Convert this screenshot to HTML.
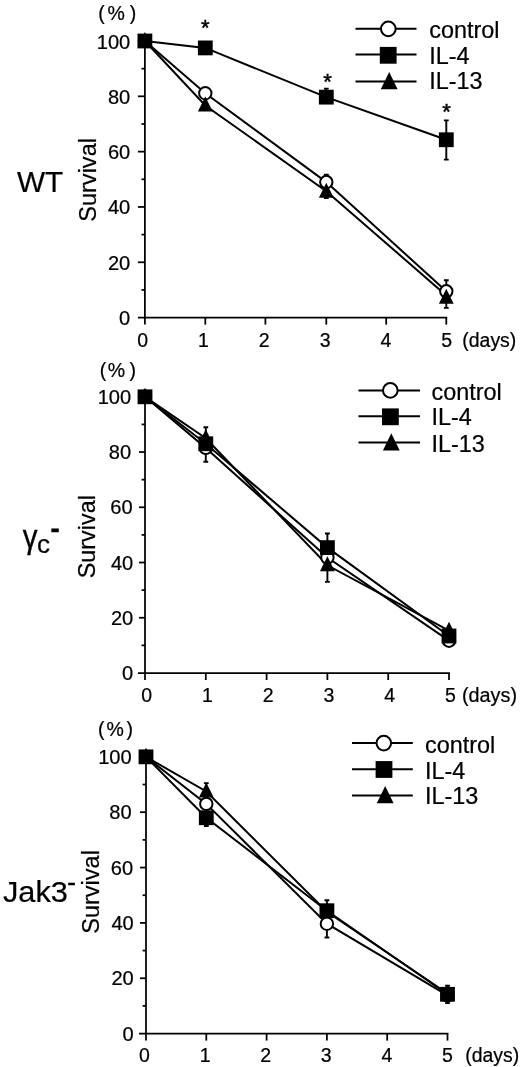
<!DOCTYPE html>
<html><head><meta charset="utf-8"><title>Survival</title>
<style>html,body{margin:0;padding:0;background:#fff}svg{display:block;will-change:transform}text{font-family:"Liberation Sans", sans-serif;fill:#000;stroke:#000;stroke-width:.22px}</style>
</head><body>
<svg width="520" height="1067" viewBox="0 0 520 1067">
<rect width="520" height="1067" fill="#fff"/>
<path d="M144.9 35V324.6" stroke="#000" stroke-width="1.75" fill="none"/>
<path d="M137.9 317.6H447.18" stroke="#000" stroke-width="1.75" fill="none"/>
<path d="M141.5 289.94H144.9" stroke="#000" stroke-width="1.75"/>
<path d="M137.9 262.28H144.9" stroke="#000" stroke-width="1.75"/>
<path d="M141.5 234.62H144.9" stroke="#000" stroke-width="1.75"/>
<path d="M137.9 206.96H144.9" stroke="#000" stroke-width="1.75"/>
<path d="M141.5 179.3H144.9" stroke="#000" stroke-width="1.75"/>
<path d="M137.9 151.64H144.9" stroke="#000" stroke-width="1.75"/>
<path d="M141.5 123.98H144.9" stroke="#000" stroke-width="1.75"/>
<path d="M137.9 96.32H144.9" stroke="#000" stroke-width="1.75"/>
<path d="M141.5 68.66H144.9" stroke="#000" stroke-width="1.75"/>
<path d="M137.9 41H144.9" stroke="#000" stroke-width="1.75"/>
<path d="M205.3 317.6V324.6" stroke="#000" stroke-width="1.75"/>
<path d="M265.4 317.6V324.6" stroke="#000" stroke-width="1.75"/>
<path d="M326.3 317.6V324.6" stroke="#000" stroke-width="1.75"/>
<path d="M386.2 317.6V324.6" stroke="#000" stroke-width="1.75"/>
<path d="M446.3 317.6V324.6" stroke="#000" stroke-width="1.75"/>
<text x="130.3" y="325.1" font-size="20.1" text-anchor="end">0</text>
<text x="130.3" y="269.78" font-size="20.1" text-anchor="end">20</text>
<text x="130.3" y="214.46" font-size="20.1" text-anchor="end">40</text>
<text x="130.3" y="159.14" font-size="20.1" text-anchor="end">60</text>
<text x="130.3" y="103.82" font-size="20.1" text-anchor="end">80</text>
<text x="130.3" y="48.5" font-size="20.1" text-anchor="end">100</text>
<text x="142.7" y="346.5" font-size="19.5" text-anchor="middle">0</text>
<text x="203.5" y="346.5" font-size="19.5" text-anchor="middle">1</text>
<text x="264.3" y="346.5" font-size="19.5" text-anchor="middle">2</text>
<text x="325.1" y="346.5" font-size="19.5" text-anchor="middle">3</text>
<text x="385.9" y="346.5" font-size="19.5" text-anchor="middle">4</text>
<text x="446.7" y="346.5" font-size="19.5" text-anchor="middle">5</text>
<text x="462.3" y="346.5" font-size="19.5" textLength="54" lengthAdjust="spacingAndGlyphs">(days)</text>
<text x="98.3" y="20.2" font-size="19.5">(</text>
<text x="107.5" y="20.2" font-size="19.5">%</text>
<text x="129.7" y="20.2" font-size="19.5">)</text>
<text transform="translate(96.1 179.9) rotate(-90)" font-size="23.55" text-anchor="middle">Survival</text>
<path d="M144.9 41 L205.3 105.45 L326.3 191.19 L446.3 295.47" stroke="#000" stroke-width="2" fill="none"/>
<path d="M144.9 41 L205.3 93.28 L326.3 182.07 L446.3 291.32" stroke="#000" stroke-width="2" fill="none"/>
<path d="M144.9 41 L205.3 47.92 L326.3 97.15 L446.3 139.75" stroke="#000" stroke-width="2" fill="none"/>
<path d="M446.3 120.38V159.66M443.9 120.38h4.8M443.9 159.66h4.8" stroke="#000" stroke-width="1.9" fill="none"/>
<path d="M446.3 280.26V307.92M443.9 280.26h4.8M443.9 307.92h4.8" stroke="#000" stroke-width="1.9" fill="none"/>
<path d="M326.3 174.6V198.11M323.9 174.6h4.8M323.9 198.11h4.8" stroke="#000" stroke-width="1.9" fill="none"/>
<path d="M326.3 88.58V102.41M323.9 88.58h4.8M323.9 102.41h4.8" stroke="#000" stroke-width="1.9" fill="none"/>
<circle cx="144.9" cy="41" r="6.2" fill="#fff" stroke="#000" stroke-width="2"/>
<path d="M144.9 32L152.3 47H137.5Z" fill="#000"/>
<rect x="137.5" y="33.6" width="14.8" height="14.8" fill="#000"/>
<circle cx="205.3" cy="93.28" r="6.2" fill="#fff" stroke="#000" stroke-width="2"/>
<path d="M205.3 96.45L212.7 111.45H197.9Z" fill="#000"/>
<rect x="197.9" y="40.52" width="14.8" height="14.8" fill="#000"/>
<circle cx="326.3" cy="182.07" r="6.2" fill="#fff" stroke="#000" stroke-width="2"/>
<path d="M326.3 182.75L333.7 197.75H318.9Z" fill="#000"/>
<rect x="318.9" y="89.75" width="14.8" height="14.8" fill="#000"/>
<circle cx="446.3" cy="291.32" r="6.2" fill="#fff" stroke="#000" stroke-width="2"/>
<path d="M446.3 288.68L453.7 303.68H438.9Z" fill="#000"/>
<rect x="438.9" y="132.35" width="14.8" height="14.8" fill="#000"/>
<text x="205.4" y="35" font-size="22" text-anchor="middle" style="stroke-width:.5px">*</text>
<text x="327.5" y="88.7" font-size="22" text-anchor="middle" style="stroke-width:.5px">*</text>
<text x="446.5" y="119.1" font-size="22" text-anchor="middle" style="stroke-width:.5px">*</text>
<path d="M355.5 28.8H416.5" stroke="#000" stroke-width="2"/>
<circle cx="388.3" cy="28.9" r="7.3" fill="#fff" stroke="#000" stroke-width="2"/>
<text x="429.3" y="38.2" font-size="23.4">control</text>
<path d="M355.5 54.6H416.5" stroke="#000" stroke-width="2"/>
<rect x="379.8" y="46.9" width="16.8" height="16.8" fill="#000"/>
<text x="429.3" y="63.6" font-size="23.4">IL-4</text>
<path d="M355.5 81.5H416.5" stroke="#000" stroke-width="2"/>
<path d="M389.2 71.9L397.6 89.2H380.8Z" fill="#000"/>
<text x="429.3" y="88.7" font-size="23.4">IL-13</text>
<path d="M145 393.8V680" stroke="#000" stroke-width="1.75" fill="none"/>
<path d="M138 673H449.88" stroke="#000" stroke-width="1.75" fill="none"/>
<path d="M141.6 645.38H145" stroke="#000" stroke-width="1.75"/>
<path d="M139 617.76H145" stroke="#000" stroke-width="1.75"/>
<path d="M141.6 590.14H145" stroke="#000" stroke-width="1.75"/>
<path d="M139 562.52H145" stroke="#000" stroke-width="1.75"/>
<path d="M141.6 534.9H145" stroke="#000" stroke-width="1.75"/>
<path d="M139 507.28H145" stroke="#000" stroke-width="1.75"/>
<path d="M141.6 479.66H145" stroke="#000" stroke-width="1.75"/>
<path d="M139 452.04H145" stroke="#000" stroke-width="1.75"/>
<path d="M141.6 424.42H145" stroke="#000" stroke-width="1.75"/>
<path d="M139 396.8H145" stroke="#000" stroke-width="1.75"/>
<path d="M205.8 673V680" stroke="#000" stroke-width="1.75"/>
<path d="M266.6 673V680" stroke="#000" stroke-width="1.75"/>
<path d="M327.4 673V680" stroke="#000" stroke-width="1.75"/>
<path d="M388.2 673V680" stroke="#000" stroke-width="1.75"/>
<path d="M449 673V680" stroke="#000" stroke-width="1.75"/>
<text x="133.3" y="680.1" font-size="20.1" text-anchor="end">0</text>
<text x="133.3" y="624.86" font-size="20.1" text-anchor="end">20</text>
<text x="133.3" y="569.62" font-size="20.1" text-anchor="end">40</text>
<text x="132.7" y="514.38" font-size="20.1" text-anchor="end">60</text>
<text x="131.2" y="459.14" font-size="20.1" text-anchor="end">80</text>
<text x="131.2" y="403.9" font-size="20.1" text-anchor="end">100</text>
<text x="146.6" y="702.3" font-size="19.5" text-anchor="middle">0</text>
<text x="207.35" y="702.3" font-size="19.5" text-anchor="middle">1</text>
<text x="268.1" y="702.3" font-size="19.5" text-anchor="middle">2</text>
<text x="328.85" y="702.3" font-size="19.5" text-anchor="middle">3</text>
<text x="389.6" y="702.3" font-size="19.5" text-anchor="middle">4</text>
<text x="450.35" y="702.3" font-size="19.5" text-anchor="middle">5</text>
<text x="462" y="702.3" font-size="19.5" textLength="55" lengthAdjust="spacingAndGlyphs">(days)</text>
<text x="99.7" y="377" font-size="19.5">(</text>
<text x="107.7" y="377" font-size="19.5">%</text>
<text x="129.6" y="377" font-size="19.5">)</text>
<text transform="translate(95 536.7) rotate(-90)" font-size="23.4" text-anchor="middle">Survival</text>
<path d="M145 396.8 L205.8 447.9 L327.4 557.55 L449 640.68" stroke="#000" stroke-width="2" fill="none"/>
<path d="M145 396.8 L205.8 443.75 L327.4 547.61 L449 635.99" stroke="#000" stroke-width="2" fill="none"/>
<path d="M145 396.8 L205.8 438.23 L327.4 565.28 L449 630.74" stroke="#000" stroke-width="2" fill="none"/>
<path d="M205.8 427.18V461.71M203.4 427.18h4.8M203.4 461.71h4.8" stroke="#000" stroke-width="1.9" fill="none"/>
<path d="M327.4 533.52V581.85M325 533.52h4.8M325 581.85h4.8" stroke="#000" stroke-width="1.9" fill="none"/>
<circle cx="145" cy="396.8" r="6.2" fill="#fff" stroke="#000" stroke-width="2"/>
<path d="M145 387.8L152.4 402.8H137.6Z" fill="#000"/>
<rect x="137.6" y="389.4" width="14.8" height="14.8" fill="#000"/>
<circle cx="205.8" cy="447.9" r="6.2" fill="#fff" stroke="#000" stroke-width="2"/>
<path d="M205.8 429.23L213.2 444.23H198.4Z" fill="#000"/>
<rect x="198.4" y="436.35" width="14.8" height="14.8" fill="#000"/>
<circle cx="327.4" cy="557.55" r="6.2" fill="#fff" stroke="#000" stroke-width="2"/>
<path d="M327.4 556.28L334.8 571.28H320Z" fill="#000"/>
<rect x="320" y="540.21" width="14.8" height="14.8" fill="#000"/>
<circle cx="449" cy="640.68" r="6.2" fill="#fff" stroke="#000" stroke-width="2"/>
<path d="M449 621.74L456.4 636.74H441.6Z" fill="#000"/>
<rect x="441.6" y="628.59" width="14.8" height="14.8" fill="#000"/>
<path d="M358.5 390.4H420" stroke="#000" stroke-width="2"/>
<circle cx="390.3" cy="390.4" r="7.3" fill="#fff" stroke="#000" stroke-width="2"/>
<text x="431.5" y="399.8" font-size="23.4">control</text>
<path d="M358.5 416.2H420" stroke="#000" stroke-width="2"/>
<rect x="382" y="408.4" width="16.8" height="16.8" fill="#000"/>
<text x="431.5" y="425.4" font-size="23.4">IL-4</text>
<path d="M358.5 442.4H420" stroke="#000" stroke-width="2"/>
<path d="M391.3 433.2L399.7 450.5H382.9Z" fill="#000"/>
<text x="431.5" y="451.8" font-size="23.4">IL-13</text>
<path d="M146 756.85V1040.6" stroke="#000" stroke-width="1.75" fill="none"/>
<path d="M139 1033.6H448.38" stroke="#000" stroke-width="1.75" fill="none"/>
<path d="M142.6 1005.92H146" stroke="#000" stroke-width="1.75"/>
<path d="M140 978.25H146" stroke="#000" stroke-width="1.75"/>
<path d="M142.6 950.57H146" stroke="#000" stroke-width="1.75"/>
<path d="M140 922.9H146" stroke="#000" stroke-width="1.75"/>
<path d="M142.6 895.22H146" stroke="#000" stroke-width="1.75"/>
<path d="M140 867.55H146" stroke="#000" stroke-width="1.75"/>
<path d="M142.6 839.88H146" stroke="#000" stroke-width="1.75"/>
<path d="M140 812.2H146" stroke="#000" stroke-width="1.75"/>
<path d="M142.6 784.53H146" stroke="#000" stroke-width="1.75"/>
<path d="M140 756.85H146" stroke="#000" stroke-width="1.75"/>
<path d="M206.3 1033.6V1040.6" stroke="#000" stroke-width="1.75"/>
<path d="M266.6 1033.6V1040.6" stroke="#000" stroke-width="1.75"/>
<path d="M326.9 1033.6V1040.6" stroke="#000" stroke-width="1.75"/>
<path d="M387.2 1033.6V1040.6" stroke="#000" stroke-width="1.75"/>
<path d="M447.5 1033.6V1040.6" stroke="#000" stroke-width="1.75"/>
<text x="133.8" y="1040.7" font-size="20.1" text-anchor="end">0</text>
<text x="133.8" y="985.35" font-size="20.1" text-anchor="end">20</text>
<text x="133.8" y="930" font-size="20.1" text-anchor="end">40</text>
<text x="133.2" y="874.65" font-size="20.1" text-anchor="end">60</text>
<text x="131.7" y="819.3" font-size="20.1" text-anchor="end">80</text>
<text x="131.7" y="763.95" font-size="20.1" text-anchor="end">100</text>
<text x="144.5" y="1062.3" font-size="19.5" text-anchor="middle">0</text>
<text x="205.1" y="1062.3" font-size="19.5" text-anchor="middle">1</text>
<text x="265.7" y="1062.3" font-size="19.5" text-anchor="middle">2</text>
<text x="326.3" y="1062.3" font-size="19.5" text-anchor="middle">3</text>
<text x="386.9" y="1062.3" font-size="19.5" text-anchor="middle">4</text>
<text x="447.5" y="1062.3" font-size="19.5" text-anchor="middle">5</text>
<text x="465.2" y="1062.3" font-size="19.5" textLength="54" lengthAdjust="spacingAndGlyphs">(days)</text>
<text x="98" y="736" font-size="19.5">(</text>
<text x="106.5" y="736" font-size="19.5">%</text>
<text x="126.5" y="736" font-size="19.5">)</text>
<text transform="translate(98.9 891.9) rotate(-90)" font-size="23.5" text-anchor="middle">Survival</text>
<path d="M146 756.85 L206.3 803.9 L326.9 923.73 L447.5 995.41" stroke="#000" stroke-width="2" fill="none"/>
<path d="M146 756.85 L206.3 817.74 L326.9 910.72 L447.5 994.3" stroke="#000" stroke-width="2" fill="none"/>
<path d="M146 756.85 L206.3 791.44 L326.9 911.83 L447.5 993.47" stroke="#000" stroke-width="2" fill="none"/>
<path d="M206.3 783.14V826.04M203.9 783.14h4.8M203.9 826.04h4.8" stroke="#000" stroke-width="1.9" fill="none"/>
<path d="M326.9 900.21V937.57M324.5 900.21h4.8M324.5 937.57h4.8" stroke="#000" stroke-width="1.9" fill="none"/>
<path d="M447.5 985.72V1003.16M445.1 985.72h4.8M445.1 1003.16h4.8" stroke="#000" stroke-width="1.9" fill="none"/>
<circle cx="146" cy="756.85" r="6.2" fill="#fff" stroke="#000" stroke-width="2"/>
<path d="M146 747.85L153.4 762.85H138.6Z" fill="#000"/>
<rect x="138.6" y="749.45" width="14.8" height="14.8" fill="#000"/>
<path d="M206.3 782.44L213.7 797.44H198.9Z" fill="#000"/>
<rect x="198.9" y="810.34" width="14.8" height="14.8" fill="#000"/>
<circle cx="206.3" cy="803.9" r="6.2" fill="#fff" stroke="#000" stroke-width="2"/>
<path d="M326.9 902.83L334.3 917.83H319.5Z" fill="#000"/>
<circle cx="326.9" cy="923.73" r="6.2" fill="#fff" stroke="#000" stroke-width="2"/>
<rect x="319.5" y="903.32" width="14.8" height="14.8" fill="#000"/>
<circle cx="447.5" cy="995.41" r="6.2" fill="#fff" stroke="#000" stroke-width="2"/>
<path d="M447.5 984.47L454.9 999.47H440.1Z" fill="#000"/>
<rect x="440.1" y="986.9" width="14.8" height="14.8" fill="#000"/>
<path d="M352 743.1H412.8" stroke="#000" stroke-width="2"/>
<circle cx="383.8" cy="743.1" r="7.3" fill="#fff" stroke="#000" stroke-width="2"/>
<text x="425" y="752.7" font-size="23.4">control</text>
<path d="M352 769.3H412.8" stroke="#000" stroke-width="2"/>
<rect x="375.6" y="761.1" width="16.8" height="16.8" fill="#000"/>
<text x="425" y="778.5" font-size="23.4">IL-4</text>
<path d="M352 795.5H412.8" stroke="#000" stroke-width="2"/>
<path d="M385.2 786L393.6 803.3H376.8Z" fill="#000"/>
<text x="425" y="803.6" font-size="23.4">IL-13</text>

<text x="17" y="191.5" font-size="29.8">WT</text>
<text x="22.8" y="547.6" font-size="33" textLength="14.8" lengthAdjust="spacingAndGlyphs" style="stroke-width:.35px">γ</text>
<text x="37" y="553.2" font-size="26">c</text>
<text x="50.8" y="536.6" font-size="26" font-weight="bold" style="stroke-width:.7px">-</text>
<text x="3" y="902" font-size="29.5" textLength="64.9" lengthAdjust="spacingAndGlyphs">Jak3</text>
<text x="67.2" y="891" font-size="26" style="stroke-width:.55px">-</text>

</svg>
</body></html>
